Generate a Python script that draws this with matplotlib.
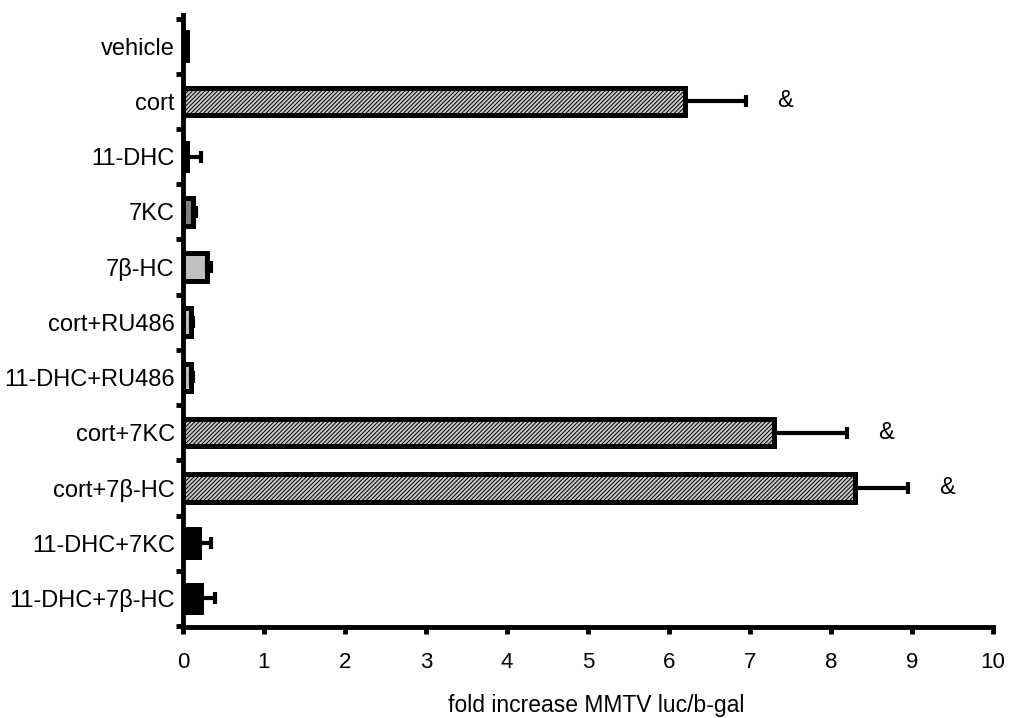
import matplotlib
matplotlib.use('Agg')
import matplotlib.pyplot as plt
import numpy as np

plt.rcParams['font.family'] = ['Liberation Sans', 'DejaVu Sans']
plt.rcParams['hatch.linewidth'] = 0.7

labels = ['vehicle', 'cort', '11-DHC', '7KC', '7β-HC', 'cort+RU486',
          '11-DHC+RU486', 'cort+7KC', 'cort+7β-HC', '11-DHC+7KC', '11-DHC+7β-HC']
values = [0.05, 6.2, 0.05, 0.12, 0.3, 0.1, 0.1, 7.3, 8.3, 0.2, 0.22]
errors = [0.0, 0.75, 0.17, 0.04, 0.05, 0.02, 0.02, 0.9, 0.65, 0.14, 0.17]
fills = ['black', 'hatch', 'black', '#808080', '#c0c0c0', '#c0c0c0',
         '#c0c0c0', 'hatch', 'hatch', 'black', 'black']
signif = [False, True, False, False, False, False, False, True, True, False, False]

fig = plt.figure(figsize=(10.14, 7.18), dpi=100)
ax = fig.add_axes([0.1805, 0.1267, 0.7985, 0.852])

y = np.arange(len(labels))
for i in range(len(labels)):
    if fills[i] == 'hatch':
        ax.barh(y[i], values[i], height=0.5, color='#c8c8c8', edgecolor='black',
                linewidth=3.6, hatch='////////', zorder=2)
    else:
        ax.barh(y[i], values[i], height=0.5, color=fills[i], edgecolor='black',
                linewidth=3.6, zorder=2)
    if errors[i] > 0:
        ax.errorbar(values[i], y[i], xerr=[[0], [errors[i]]], fmt='none',
                    ecolor='black', elinewidth=3, capsize=4.3, capthick=3, zorder=3)
    if signif[i]:
        ax.annotate('&', xy=(values[i] + errors[i], y[i]), xytext=(28, 0),
                    textcoords='offset points', ha='center', va='center', fontsize=17)

ax.set_xlim(0, 10)
ax.set_ylim(10.52, -0.56)
ax.set_xticks(range(0, 11))
ax.set_yticks(y)
ax.set_yticklabels(labels)
ax.set_yticks(np.arange(-0.5, 11, 1), minor=True)
ax.tick_params(axis='y', which='major', length=0, pad=6, labelsize=17)
ax.tick_params(axis='y', which='minor', length=5, width=3.5, direction='out')
ax.tick_params(axis='x', which='major', length=5, width=3.5, pad=13, labelsize=16)

for s in ['top', 'right']:
    ax.spines[s].set_visible(False)
for s in ['left', 'bottom']:
    ax.spines[s].set_linewidth(3.5)

ax.set_xlabel('fold increase MMTV luc/b-gal', fontsize=16.5)
ax.xaxis.set_label_coords(0.51, -0.11)

fig.savefig('out.png', dpi=100)
